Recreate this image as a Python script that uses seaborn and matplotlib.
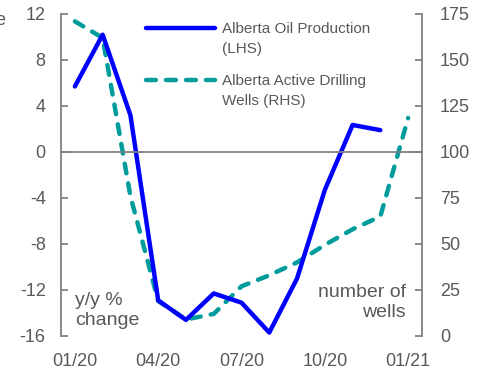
import numpy as np
import pandas as pd
import matplotlib
matplotlib.use("Agg")
import matplotlib.pyplot as plt
import seaborn as sns

# ---- data ----
month_idx = list(range(13))  # Jan 2020 .. Jan 2021
tick_labels = ["01/20", "04/20", "07/20", "10/20", "01/21"]
tick_label_pos = [0, 3, 6, 9, 12]
oil_production = [5.7, 10.2, 3.2, -12.9, -14.6, -12.3, -13.1, -15.7, -11.0, -3.3, 2.35, 1.9, np.nan]
drilling_wells = [171, 162, 76, 19, 9, 12, 27, 33, 40, 49.5, 58, 65, 118.5]

oil_label = "Alberta Oil Production\n(LHS)"
wells_label = "Alberta Active Drilling\nWells (RHS)"

df = pd.DataFrame({"month": month_idx, "oil": oil_production, "wells": drilling_wells})

# ---- style ----
sns.set_style("white")
plt.rcParams["font.family"] = ["Liberation Sans", "DejaVu Sans"]
plt.rcParams["axes.unicode_minus"] = False

GRAY_AX = "#808080"
GRAY_TXT = "#595959"
BLUE = "#0000FF"
TEAL = "#009B9B"

fig = plt.figure(figsize=(4.87, 3.73), dpi=100)
ax = fig.add_axes([61 / 487, 1 - 336 / 373, (422 - 61) / 487, (336 - 14) / 373])
ax2 = ax.twinx()

sns.lineplot(data=df, x="month", y="oil", ax=ax, color=BLUE, lw=3.2, label=oil_label, legend=False)
sns.lineplot(data=df, x="month", y="wells", ax=ax2, color=TEAL, lw=3.2, label=wells_label, legend=False)
wl = ax2.get_lines()[0]
wl.set_dashes((2.2, 2.3))
wl.set_dash_capstyle("round")

ax.set_xlim(-0.5, 12.5)
ax.set_ylim(-16, 12)
ax2.set_ylim(0, 175)
ax.set_yticks(np.arange(-16, 13, 4))
ax2.set_yticks(np.arange(0, 176, 25))
ax.set_xlabel("")
ax.set_ylabel("")
ax2.set_ylabel("")

# spines
for a in (ax, ax2):
    for s in a.spines.values():
        s.set_visible(False)
ax.spines["left"].set_visible(True)
ax.spines["left"].set_color(GRAY_AX)
ax.spines["left"].set_linewidth(1.3)
ax2.spines["right"].set_visible(True)
ax2.spines["right"].set_color(GRAY_AX)
ax2.spines["right"].set_linewidth(1.3)

# x axis at zero with tick marks at month boundaries
ax.spines["bottom"].set_visible(True)
ax.spines["bottom"].set_position(("data", 0))
ax.spines["bottom"].set_color(GRAY_AX)
ax.spines["bottom"].set_linewidth(1.3)
ax.set_xticks([-0.5, 2.5, 5.5, 8.5, 11.5])
ax.tick_params(axis="x", direction="in", length=5, width=1.3, color=GRAY_AX, labelbottom=False)

sec = ax.secondary_xaxis(0.0)
sec.set_xticks(tick_label_pos)
sec.set_xticklabels(tick_labels)
sec.tick_params(axis="x", length=0, pad=12.5, labelsize=13, labelcolor=GRAY_TXT)
for s in sec.spines.values():
    s.set_visible(False)

ax.tick_params(axis="y", direction="in", length=5, width=1.3, color=GRAY_AX,
               labelsize=13, labelcolor=GRAY_TXT, pad=11, left=True)
ax2.tick_params(axis="y", direction="in", length=5, width=1.3, color=GRAY_AX,
                labelsize=13, labelcolor=GRAY_TXT, pad=13, right=True)

# annotations
ax.text(0.04, 0.138, "y/y %\nchange", transform=ax.transAxes, fontsize=14,
        color=GRAY_TXT, ha="left", va="top", linespacing=1.28)
ax.text(0.955, 0.16, "number of\nwells", transform=ax.transAxes, fontsize=14,
        color=GRAY_TXT, ha="right", va="top", linespacing=1.22, multialignment="right")
fig.text(-0.009, 0.944, "e", fontsize=13, color=GRAY_TXT, ha="left", va="center")

# legend
handles = ax.get_lines()[:1] + ax2.get_lines()[:1]
leg = ax.legend(handles, [oil_label, wells_label], loc="upper left",
                bbox_to_anchor=(0.198, 1.017), frameon=False, fontsize=11,
                handlelength=4.5, handletextpad=0.45, labelspacing=1.22,
                labelcolor=GRAY_TXT)
for t in leg.get_texts():
    t.set_linespacing(1.5)
# align each legend line sample with the first text line
for h in leg.legend_handles:
    h.set_ydata(np.asarray(h.get_ydata()) + 8.3)
ax2.set_zorder(1)
ax.set_zorder(2)
ax.patch.set_visible(False)

fig.savefig("out.png", dpi=100)
